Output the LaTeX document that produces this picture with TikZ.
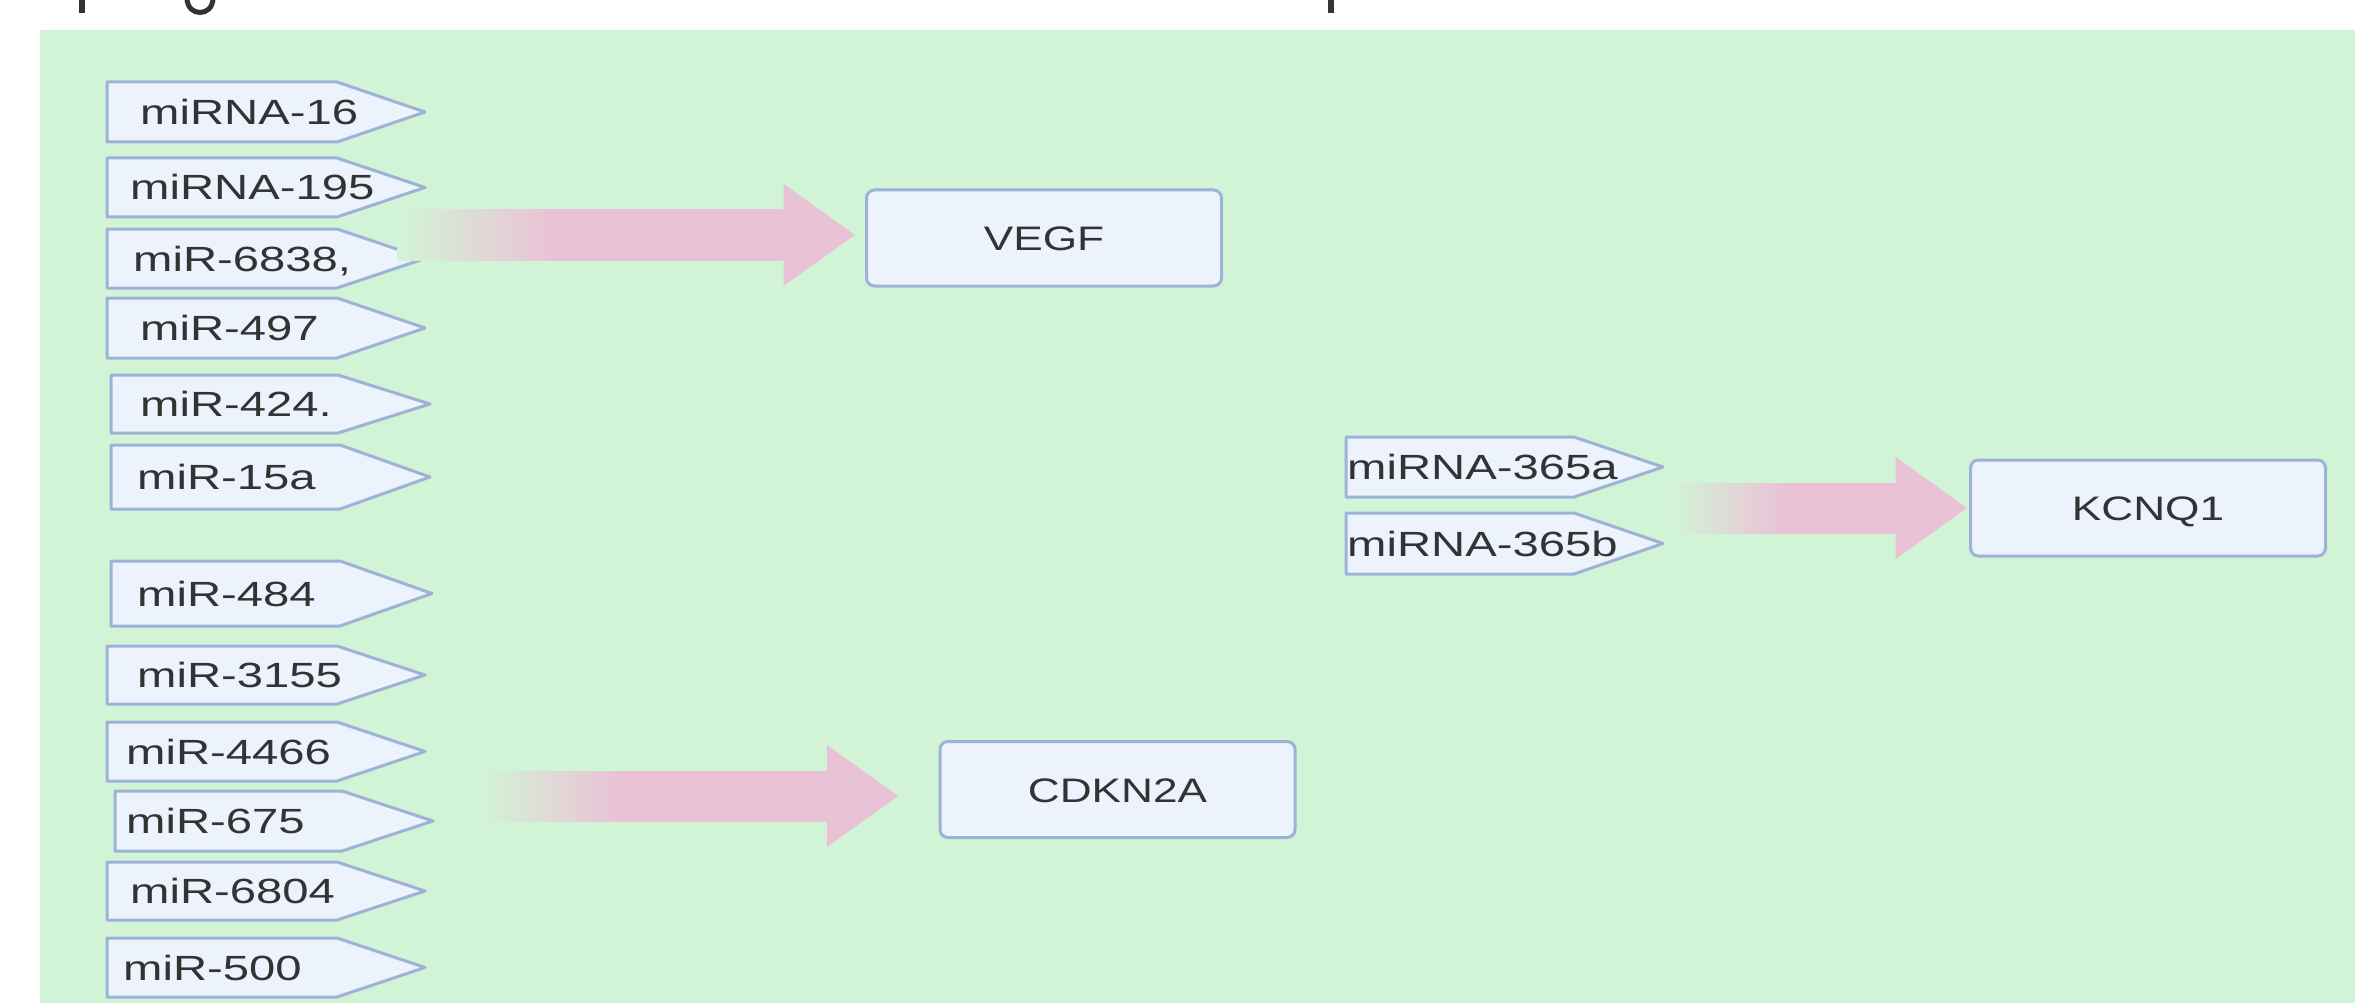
\documentclass[tikz,border=0pt]{standalone}
\usepackage{fontspec}
\newfontfamily\lblfont[FakeStretch=1.35]{Liberation Sans}
\newfontfamily\boxfont[FakeStretch=1.3]{Liberation Sans}
\usetikzlibrary{arrows.meta}
\definecolor{bggreen}{RGB}{210,244,214}
\definecolor{tagfill}{RGB}{236,243,252}
\definecolor{tagline}{RGB}{158,178,216}
\definecolor{pinkc}{RGB}{234,194,214}
\definecolor{txtc}{RGB}{51,51,51}
\pgfdeclarehorizontalshading{fadeA}{100bp}{color(0bp)=(bggreen); color(25bp)=(bggreen); color(45bp)=(pinkc); color(100bp)=(pinkc)}
\pgfdeclarehorizontalshading{fadeB}{100bp}{color(0bp)=(bggreen); color(25bp)=(bggreen); color(50bp)=(pinkc); color(100bp)=(pinkc)}
\tikzset{
  tagshape/.style={fill=tagfill, draw=tagline, line width=3pt, line join=round},
  lbl/.style={font=\lblfont\fontsize{35}{40}\selectfont, text=txtc, inner xsep=0pt, inner ysep=0pt,
              text height=25pt, text depth=0pt, anchor=west},
  gbox/.style={draw=tagline, fill=tagfill, line width=3pt, rounded corners=8pt,
               minimum width=355pt, minimum height=96pt, inner sep=0pt,
               font=\boxfont\fontsize{34}{40}\selectfont, text=txtc, text height=25pt, text depth=0pt},
  fat/.style={draw=pinkc, line width=50pt, -{Triangle[length=72pt,width=97pt]}},
}
% #1 name, #2 left, #3 top, #4 bottom, #5 rect end, #6 tip, #7 text x, #8 text
\newcommand\mirtag[8]{%
  \path[tagshape] (#2,#3) -- (#5,#3) -- (#6,{(#3+#4)/2}) -- (#5,#4) -- (#2,#4) -- cycle;
  \node[lbl] (#1) at (#7,{(#3+#4)/2}) {#8};
}
\begin{document}
\begin{tikzpicture}[x=1pt,y=-1pt]
\useasboundingbox (0,0) rectangle (2355,1003);
\fill[white] (0,0) rectangle (2355,1003);
\fill[bggreen] (40,30) rectangle (2355,1003);
% fragments of cut-off title
\fill[txtc] (79,0) rectangle (85,13);
\fill[txtc] (1328,0) rectangle (1334,13);
\draw[txtc, line width=5pt] (187,-1) .. controls (188,17) and (212,17) .. (213,-1);

% tags left column
\mirtag{t16}{107}{82}{142}{337}{425}{140}{miRNA-16}
\mirtag{t195}{107}{158}{217}{337}{425}{130}{miRNA-195}
\mirtag{t6838}{107}{229}{288}{337}{425}{133}{miR-6838,}
\mirtag{t497}{107}{298}{358}{337}{425}{140}{miR-497}
\mirtag{t424}{111}{375}{433}{338}{430}{140}{miR-424.}
\mirtag{t15a}{111}{445}{509}{340}{430}{137}{miR-15a}
\mirtag{t484}{111}{561}{626}{340}{432}{137}{miR-484}
\mirtag{t3155}{107}{646}{704}{337}{425}{137}{miR-3155}
\mirtag{t4466}{107}{722}{781}{337}{425}{126}{miR-4466}
\mirtag{t675}{115}{791}{851}{342}{433}{126}{miR-675}
\mirtag{t6804}{107}{862}{920}{337}{425}{130}{miR-6804}
\mirtag{t500}{107}{938}{997}{337}{425}{123}{miR-500}
% tags right
\mirtag{t365a}{1346}{437}{497}{1574}{1663}{1347}{miRNA-365a}
\mirtag{t365b}{1346}{513}{574}{1574}{1663}{1347}{miRNA-365b}

% target boxes
\node[gbox] (vegf) at (1044,238) {VEGF};
\node[gbox] (cdkn) at (1117.5,789.5) {CDKN2A};
\node[gbox] (kcnq) at (2148,508) {KCNQ1};

% fat arrows
\coordinate (s1) at (397,235);
\coordinate (s2) at (477,796);
\coordinate (s3) at (1670,508);
\draw[fat, shorten >=9.5pt] (s1) -- (s1 -| vegf.west);
\shade[shading=fadeA] (397,210) rectangle (783,260);
\draw[fat, shorten >=39.5pt] (s2) -- (s2 -| cdkn.west);
\shade[shading=fadeA] (477,771) rectangle (829,821);
\draw[fat, shorten >=1.5pt] (s3) -- (s3 -| kcnq.west);
\shade[shading=fadeB] (1670,483) rectangle (1895,533);
\end{tikzpicture}
\end{document}
